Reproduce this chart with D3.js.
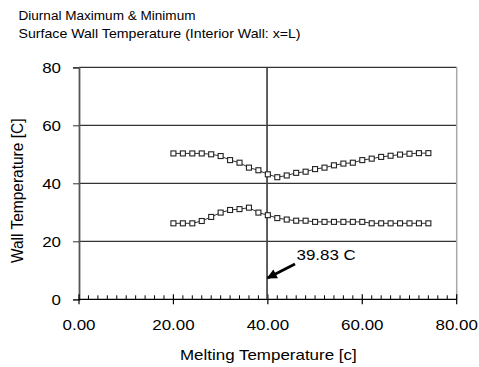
<!DOCTYPE html>
<html>
<head>
<meta charset="utf-8">
<script src="https://cdn.jsdelivr.net/npm/d3@7"></script>
<style>
  html, body { margin: 0; padding: 0; background: #fff; }
  svg { display: block; font-family: "Liberation Sans", Arial, sans-serif; }
</style>
</head>
<body>
<svg id="chart" width="479" height="367"></svg>
<script>
// Melting temperature of the PCM layer [C]
const meltTemps = [20, 22, 24, 26, 28, 30, 32, 34, 36, 38, 40, 42, 44, 46,
                   48, 50, 52, 54, 56, 58, 60, 62, 64, 66, 68, 70, 72, 74];
// Diurnal maximum interior surface wall temperature [C]
const maxTemps = [50.3, 50.3, 50.3, 50.3, 50.0, 49.4, 48.0, 47.1, 45.4, 44.5, 43.1, 42.1, 42.7, 43.6,
                  44.0, 44.9, 45.4, 46.2, 46.8, 47.1, 48.0, 48.5, 49.1, 49.5, 49.9, 50.2, 50.4, 50.4];
// Diurnal minimum interior surface wall temperature [C]
const minTemps = [26.2, 26.2, 26.2, 27.0, 28.4, 29.9, 30.8, 31.1, 31.6, 29.9, 29.0, 28.0, 27.5, 27.1,
                  27.1, 26.7, 26.7, 26.7, 26.7, 26.7, 26.7, 26.2, 26.2, 26.2, 26.2, 26.2, 26.2, 26.2];
const xTicks = [0, 20, 40, 60, 80];
const yTicks = [0, 20, 40, 60, 80];
const optimumMelt = 39.83;
const optimumLabel = "39.83 C";
const titleLines = ["Diurnal Maximum & Minimum", "Surface Wall Temperature (Interior Wall: x=L)"];

const svg = d3.select("#chart");
const SX = 1.13; // horizontal glyph stretch

const x = d3.scaleLinear().domain([0, 80]).range([79, 456.7]);
const y = d3.scaleLinear().domain([0, 80]).range([299.3, 67.3]);

function stretchedText(g, tx, ty, str, size, anchor, sx) {
  return g.append("text")
    .attr("transform", `translate(${tx},${ty}) scale(${sx || SX},1)`)
    .attr("text-anchor", anchor || "start")
    .attr("font-size", size)
    .attr("fill", "#000")
    .text(str);
}

// Title
stretchedText(svg, 18.5, 20, titleLines[0], 12);
stretchedText(svg, 18.5, 38, titleLines[1], 12, "start", 1.18);

// Horizontal gridlines
svg.append("g").selectAll("line").data(yTicks.filter(d => d > 0)).join("line")
  .attr("x1", x(0)).attr("x2", x(80))
  .attr("y1", d => y(d)).attr("y2", d => y(d))
  .attr("stroke", "#000").attr("stroke-width", 1);

// Right plot border
svg.append("line")
  .attr("x1", x(80)).attr("x2", x(80))
  .attr("y1", y(80)).attr("y2", y(0))
  .attr("stroke", "#a8a8a8").attr("stroke-width", 1.5);

// Y axis
const yAxis = d3.axisLeft(y).tickValues(yTicks).tickSize(6).tickFormat(d3.format("d"));
const gy = svg.append("g").attr("transform", `translate(${x(0)},0)`).call(yAxis);
gy.select(".domain").attr("stroke", "#555").attr("stroke-width", 1.8);
gy.selectAll(".tick line").attr("stroke", "#333");
gy.selectAll(".tick text").remove();
gy.selectAll(".tick").each(function(d) {
  stretchedText(d3.select(this), -18, 5.3, String(d), 15, "end");
});

// X axis: minor ticks every 2, major every 20
const minorVals = d3.range(0, 80.001, 2).filter(v => v % 20 !== 0);
const gx = svg.append("g");
gx.append("line")
  .attr("x1", x(0)).attr("x2", x(80)).attr("y1", y(0)).attr("y2", y(0))
  .attr("stroke", "#000").attr("stroke-width", 1.2);
gx.selectAll("line.minor").data(minorVals).join("line").attr("class", "minor")
  .attr("x1", d => x(d)).attr("x2", d => x(d))
  .attr("y1", y(0) - 4).attr("y2", y(0) + 0.5)
  .attr("stroke", "#000").attr("stroke-width", 1);
gx.selectAll("line.major").data(xTicks).join("line").attr("class", "major")
  .attr("x1", d => x(d)).attr("x2", d => x(d))
  .attr("y1", y(0) - 5).attr("y2", y(0) + 5)
  .attr("stroke", "#000").attr("stroke-width", 1.2);
xTicks.forEach(v => stretchedText(gx, x(v), 330, d3.format(".2f")(v), 15, "middle"));

// Axis titles
stretchedText(svg, 268.3, 360, "Melting Temperature [c]", 15, "middle");
svg.append("text")
  .attr("transform", `translate(22.5,190.8) scale(1.05,1) rotate(-90)`)
  .attr("text-anchor", "middle")
  .attr("font-size", 15.5)
  .text("Wall Temperature [C]");

// Optimum melting temperature marker
svg.append("line")
  .attr("x1", x(optimumMelt)).attr("x2", x(optimumMelt))
  .attr("y1", y(80)).attr("y2", y(0))
  .attr("stroke", "#444").attr("stroke-width", 1.7);

// Series lines and markers
const line = d3.line().x((d, i) => x(meltTemps[i])).y(d => y(d));
[maxTemps, minTemps].forEach(series => {
  svg.append("path").datum(series)
    .attr("d", line)
    .attr("fill", "none").attr("stroke", "#333").attr("stroke-width", 1);
  svg.append("g").selectAll("rect").data(series).join("rect")
    .attr("x", (d, i) => x(meltTemps[i]) - 2.5)
    .attr("y", d => y(d) - 2.5)
    .attr("width", 5).attr("height", 5)
    .attr("fill", "#fff").attr("stroke", "#222").attr("stroke-width", 1.1);
});

// Annotation arrow and label
svg.append("defs").append("marker")
  .attr("id", "arrowHead")
  .attr("viewBox", "0 0 10 10").attr("refX", 9).attr("refY", 5)
  .attr("markerWidth", 4.4).attr("markerHeight", 3.6)
  .attr("markerUnits", "strokeWidth")
  .attr("orient", "auto")
  .append("path").attr("d", "M0,0 L10,5 L0,10 Z").attr("fill", "#000");
svg.append("line")
  .attr("x1", 295).attr("y1", 264)
  .attr("x2", x(optimumMelt) + 0.5).attr("y2", 278)
  .attr("stroke", "#000").attr("stroke-width", 2.8)
  .attr("marker-end", "url(#arrowHead)");
stretchedText(svg, 296.5, 260, optimumLabel, 15, "start");
</script>
</body>
</html>
